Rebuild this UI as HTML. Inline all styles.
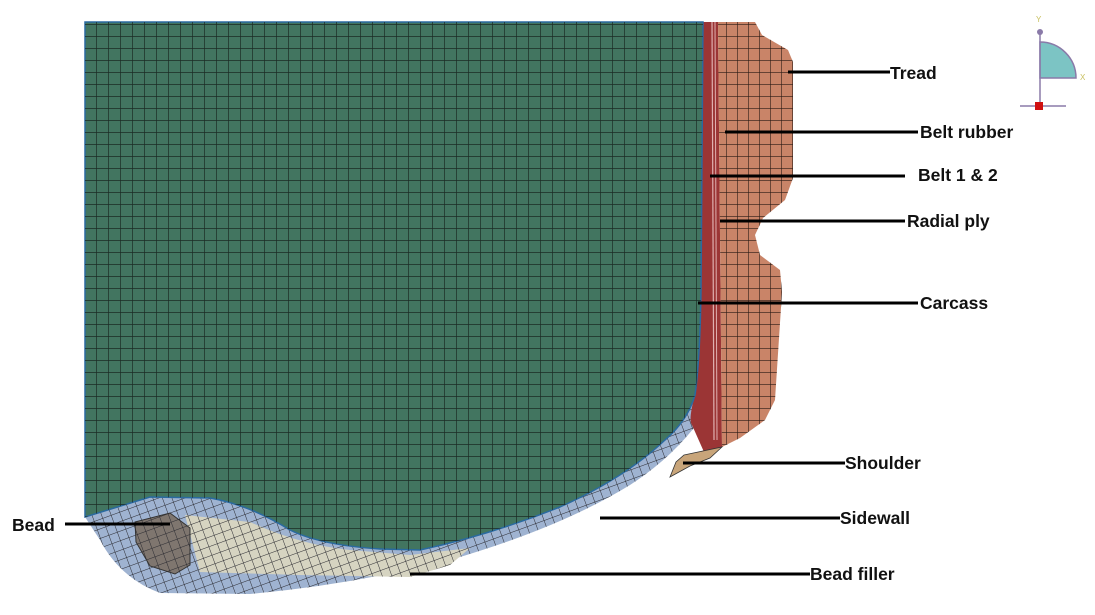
<!DOCTYPE html>
<html><head><meta charset="utf-8"><style>
html,body{margin:0;padding:0;background:#fff}
svg{display:block}
text{font-family:"Liberation Sans",sans-serif;font-weight:bold;font-size:17.5px;fill:#111}
</style></head><body>
<svg width="1095" height="615" viewBox="0 0 1095 615">
<defs>
<pattern id="g12" width="12" height="12" patternUnits="userSpaceOnUse"><path d="M0 0H12M0 0V12" stroke="#1b2b24" stroke-width="1.4" fill="none"/></pattern>
<pattern id="g10" width="11" height="12" patternUnits="userSpaceOnUse"><path d="M0 0H11M0 0V12" stroke="#2a1a14" stroke-width="1.2" fill="none"/></pattern>
<pattern id="g8" width="9" height="9" patternUnits="userSpaceOnUse" patternTransform="rotate(-20)"><path d="M0 0H9M0 0V9" stroke="#2a2a30" stroke-width="1" fill="none"/></pattern>
</defs>
<g>
<path id="sw" d="M85 517 L100 540 Q120 578 160 593 L250 594 Q350 585 450 560 Q560 528 630 485 Q672 458 700 420 L705 400 L695 395 Q688 420 665 440 Q625 478 560 507 Q490 535 420 550 L380 549 Q320 545 290 530 Q250 505 210 498 L150 497 Z" fill="#9fb3d1"/>
<path d="M85 517 L100 540 Q120 578 160 593 L250 594 Q350 585 450 560 Q560 528 630 485 Q672 458 700 420 L705 400 L695 395 Q688 420 665 440 Q625 478 560 507 Q490 535 420 550 L380 549 Q320 545 290 530 Q250 505 210 498 L150 497 Z" fill="url(#g8)"/>
</g>
<g>
<path d="M185 515 L250 522 Q300 545 350 550 L410 555 L470 548 L450 565 L410 577 L300 575 L200 572 Z" fill="#d6d4c1"/>
<path d="M185 515 L250 522 Q300 545 350 550 L410 555 L470 548 L450 565 L410 577 L300 575 L200 572 Z" fill="url(#g8)"/>
</g>
<g>
<path d="M135 522 L170 513 L190 528 L190 565 L175 574 L150 566 L136 542 Z" fill="#7f766f" stroke="#333" stroke-width="1"/>
<path d="M135 522 L170 513 L190 528 L190 565 L175 574 L150 566 L136 542 Z" fill="url(#g8)"/>
</g>
<g>
<path d="M702 22 L718 22 L722 447 L704 452 L692 425 Q688 420 695 395 Q700 360 701 290 Z" fill="#9b3535"/>
<line x1="712" y1="22" x2="714" y2="440" stroke="#e0b0b0" stroke-width="1.2"/>
<line x1="715" y1="22" x2="717" y2="440" stroke="#e0b0b0" stroke-width="1"/>
</g>
<g>
<path d="M85 22 L703 22 L701 290 Q700 360 695 395 Q688 420 665 440 Q625 478 560 507 Q490 535 420 550 L380 549 Q320 545 290 530 Q250 505 210 498 L150 497 L85 517 Z" fill="#427560" stroke="#2a6aa0" stroke-width="1.5"/>
<path d="M85 22 L703 22 L701 290 Q700 360 695 395 Q688 420 665 440 Q625 478 560 507 Q490 535 420 550 L380 549 Q320 545 290 530 Q250 505 210 498 L150 497 L85 517 Z" fill="url(#g12)"/>
</g>
<g>
<path d="M718 22 L755 22 L762 35 L788 50 L793 62 L793 178 L785 200 L763 218 L755 235 L760 255 L780 270 L782 292 L775 400 L765 420 L740 438 L722 447 Z" fill="#c98468"/>
<path d="M718 22 L755 22 L762 35 L788 50 L793 62 L793 178 L785 200 L763 218 L755 235 L760 255 L780 270 L782 292 L775 400 L765 420 L740 438 L722 447 Z" fill="url(#g10)"/>
</g>
<path d="M684 455 L722 447 L710 458 L690 466 L670 477 L676 462 Z" fill="#c8a57a" stroke="#333" stroke-width="0.8"/>
<g stroke="#000" stroke-width="3">
<line x1="788" y1="72" x2="890" y2="72"/>
<line x1="725" y1="132" x2="918" y2="132"/>
<line x1="710" y1="176" x2="905" y2="176"/>
<line x1="720" y1="221" x2="905" y2="221"/>
<line x1="698" y1="303" x2="918" y2="303"/>
<line x1="683" y1="463" x2="845" y2="463"/>
<line x1="600" y1="518" x2="840" y2="518"/>
<line x1="410" y1="574" x2="810" y2="574"/>
<line x1="65" y1="524" x2="170" y2="524"/>
</g>
<text x="890" y="79">Tread</text>
<text x="920" y="138">Belt rubber</text>
<text x="918" y="181">Belt 1 &amp; 2</text>
<text x="907" y="227">Radial ply</text>
<text x="920" y="309">Carcass</text>
<text x="845" y="469">Shoulder</text>
<text x="840" y="524">Sidewall</text>
<text x="810" y="580">Bead filler</text>
<text x="12" y="531">Bead</text>
<g>
<path d="M1040 42 A36 36 0 0 1 1076 78 L1040 78 Z" fill="#7cc4c4" stroke="#8a7aa8" stroke-width="1.5"/>
<line x1="1040" y1="32" x2="1040" y2="106" stroke="#8a7aa8" stroke-width="1.5"/>
<line x1="1020" y1="106" x2="1066" y2="106" stroke="#8a7aa8" stroke-width="1.5"/>
<circle cx="1040" cy="32" r="3" fill="#8a7aa8"/>
<rect x="1035" y="102" width="8" height="8" fill="#d01010"/>
<text x="1036" y="22" style="font-size:8px;fill:#c8c060;font-weight:normal">Y</text>
<text x="1080" y="80" style="font-size:8px;fill:#c8c060;font-weight:normal">X</text>
</g>
</svg>
</body></html>
